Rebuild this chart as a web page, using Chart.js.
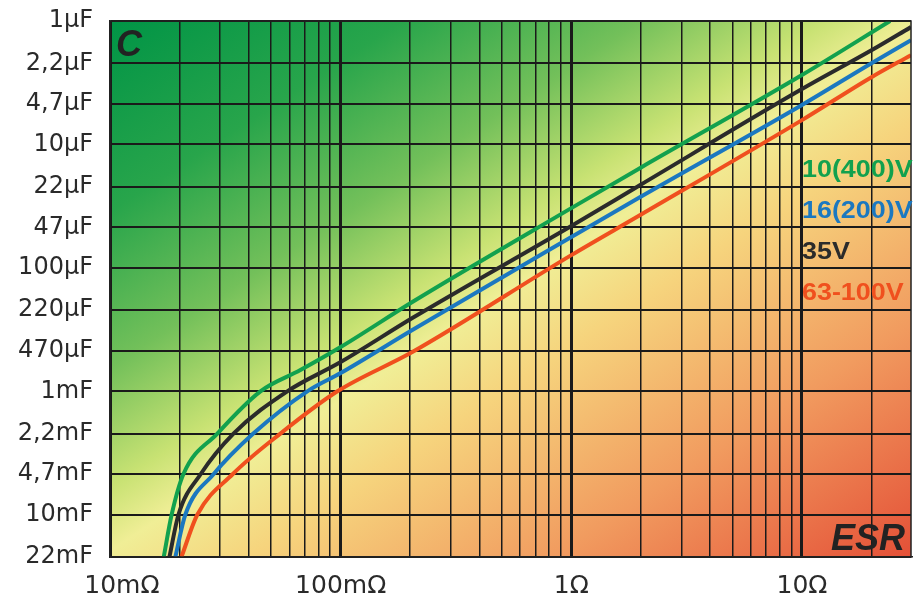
<!DOCTYPE html>
<html>
<head>
<meta charset="utf-8">
<script src="https://cdn.jsdelivr.net/npm/chart.js@4/dist/chart.umd.min.js"></script>
<style>
html,body{margin:0;padding:0;background:#fff;}
#wrap{width:915px;height:597px;position:relative;}
</style>
</head>
<body>
<div id="wrap"><canvas id="c" width="915" height="597"></canvas></div>
<script>
// ---- Axis ticks (capacitance in µF, ESR in Ω) ----
const capTicks  = [1, 2.2, 4.7, 10, 22, 47, 100, 220, 470, 1000, 2200, 4700, 10000, 22000];
const capLabels = ['1µF','2,2µF','4,7µF','10µF','22µF','47µF','100µF','220µF','470µF','1mF','2,2mF','4,7mF','10mF','22mF'];
const esrDecades = [0.01, 0.1, 1, 10];
const esrLabels  = ['10mΩ','100mΩ','1Ω','10Ω'];
const esrMax = 29.7;

// ---- Series (ESR in Ω, C in µF) ----
const seriesNames = ['10(400)V', '16(200)V', '35V', '63-100V'];

const esr10V = [0.0171, 0.0185, 0.0208, 0.0292, 0.0449, 0.0669, 0.1, 0.2045, 1, 1.99, 10, 24.1];
const cap10V = [22000, 10000, 4700, 2200, 1000, 673, 438, 189, 32.8, 15.5, 2.74, 1];

const esr16V = [0.0192, 0.0212, 0.0281, 0.0418, 0.0717, 0.1, 0.2045, 1, 1.99, 10, 20.1, 29.7];
const cap16V = [22000, 10000, 4700, 2200, 1000, 712, 319, 56.3, 26.7, 4.79, 2.19, 1.43];

const esr35V = [0.0181, 0.0198, 0.0247, 0.0343, 0.0587, 0.1, 0.2045, 1, 1.99, 10, 20.1, 29.7];
const cap35V = [22000, 10000, 4700, 2200, 1000, 580, 255, 45.8, 21.3, 3.56, 1.72, 1.12];

const esr63V = [0.0204, 0.0239, 0.0340, 0.0548, 0.0968, 0.2045, 1, 1.99, 10, 20.1, 29.7];
const cap63V = [22000, 10000, 4700, 2200, 1000, 481, 78.8, 37.3, 6.35, 2.84, 1.89];

// ---- build helpers ----
const pts = (xs, ys) => xs.map((x, i) => ({x: x, y: ys[i]}));
const esrGridVals = [];
esrDecades.forEach(d => { for (let k = 1; k <= 9; k++) { const v = +(k * d).toPrecision(3); if (v <= esrMax) esrGridVals.push(v); } });
const isDecade = v => esrDecades.some(d => Math.abs(d - v) < d * 1e-6);

const colGreen = '#12a14e', colBlue = '#1b78c0', colBlack = '#2b2b2b', colRed = '#f0501e';

const bgPlugin = {
  id: 'bg',
  beforeDraw(chart) {
    const {ctx, chartArea} = chart;
    const {left, top, right, bottom} = chartArea;
    ctx.save();
    ctx.fillStyle = '#ffffff';
    ctx.fillRect(0, 0, chart.width, chart.height);
    const cx = left + (right - left) * 0.512, cy = top + (bottom - top) * 0.483;
    const nx = 0.547, ny = 0.837;
    const g = ctx.createLinearGradient(cx - 441 * nx, cy - 441 * ny, cx + 446 * nx, cy + 446 * ny);
    g.addColorStop(0.000, 'rgb(0,148,70)');
    g.addColorStop(0.180, 'rgb(40,165,75)');
    g.addColorStop(0.327, 'rgb(115,192,90)');
    g.addColorStop(0.440, 'rgb(200,226,115)');
    g.addColorStop(0.500, 'rgb(240,238,150)');
    g.addColorStop(0.590, 'rgb(246,212,125)');
    g.addColorStop(0.780, 'rgb(241,155,95)');
    g.addColorStop(1.000, 'rgb(228,80,55)');
    ctx.fillStyle = g;
    ctx.fillRect(left, top, right - left, bottom - top);
    ctx.restore();
  },
  afterDatasetsDraw(chart) {
    const {ctx, chartArea} = chart;
    const {left, top, right, bottom} = chartArea;
    ctx.save();
    ctx.strokeStyle = '#222';
    ctx.lineWidth = 1.5;
    ctx.strokeRect(left, top, right - left, bottom - top);
    // corner labels
    ctx.fillStyle = '#222';
    ctx.font = 'italic bold 36px "Liberation Sans", Arial, sans-serif';
    ctx.textBaseline = 'alphabetic';
    ctx.textAlign = 'left';
    ctx.fillText('C', left + 6, top + 35);
    ctx.textAlign = 'right';
    ctx.fillText('ESR', right - 6, bottom - 7);
    // series labels
    const cols = [colGreen, colBlue, colBlack, colRed];
    const ys = [177, 218, 259, 300];
    ctx.font = 'bold 24px "Liberation Sans", Arial, sans-serif';
    ctx.textAlign = 'left';
    seriesNames.forEach((s, i) => {
      ctx.save();
      ctx.translate(802, ys[i]);
      ctx.scale(1.12, 1);
      ctx.fillStyle = cols[i];
      ctx.fillText(s, 0, 0);
      ctx.restore();
    });
    ctx.restore();
  }
};

const ds = (label, data, color) => ({
  label, data, borderColor: color, backgroundColor: color,
  borderWidth: 4, pointRadius: 0, fill: false,
  cubicInterpolationMode: 'monotone'
});

new Chart(document.getElementById('c'), {
  type: 'line',
  data: {
    datasets: [
      ds(seriesNames[3], pts(esr63V, cap63V), colRed),
      ds(seriesNames[1], pts(esr16V, cap16V), colBlue),
      ds(seriesNames[2], pts(esr35V, cap35V), colBlack),
      ds(seriesNames[0], pts(esr10V, cap10V), colGreen)
    ]
  },
  plugins: [bgPlugin],
  options: {
    responsive: false,
    animation: false,
    layout: {padding: {top: 21, right: 4, left: 0, bottom: 0}},
    plugins: {legend: {display: false}, tooltip: {enabled: false}},
    scales: {
      x: {
        type: 'logarithmic',
        min: 0.01, max: esrMax,
        afterBuildTicks: s => { s.ticks = esrGridVals.map(v => ({value: v})); },
        afterFit: s => { s.height = 40; s.paddingLeft = 0; s.paddingRight = 0; },
        border: {display: true, color: '#222', width: 1.5},
        grid: {
          drawTicks: false,
          color: '#1a1a1a',
          lineWidth: c => (c.tick && isDecade(c.tick.value)) ? 3 : 1.5
        },
        ticks: {
          autoSkip: false, maxRotation: 0, padding: 14,
          color: '#2a2a2a',
          font: {family: '"DejaVu Sans", sans-serif', size: 25},
          callback: (v) => {
            const i = esrDecades.findIndex(d => Math.abs(d - v) < d * 1e-6);
            if (i < 0) return '';
            return i === 0 ? '   ' + esrLabels[i] : esrLabels[i];
          }
        }
      },
      y: {
        type: 'logarithmic',
        reverse: true,
        min: 1, max: 22000,
        afterBuildTicks: s => { s.ticks = capTicks.map(v => ({value: v})); },
        afterFit: s => { s.width = 110; s.paddingTop = 0; s.paddingBottom = 0; },
        border: {display: true, color: '#222', width: 1.5},
        grid: {drawTicks: false, color: '#1a1a1a', lineWidth: 1.9},
        ticks: {
          autoSkip: false, padding: 17,
          color: '#2a2a2a',
          font: {family: '"DejaVu Sans", sans-serif', size: 24},
          callback: (v) => { const i = capTicks.findIndex(t => Math.abs(t - v) < t * 1e-6); return i >= 0 ? capLabels[i] : ''; }
        }
      }
    }
  }
});
</script>
</body>
</html>
